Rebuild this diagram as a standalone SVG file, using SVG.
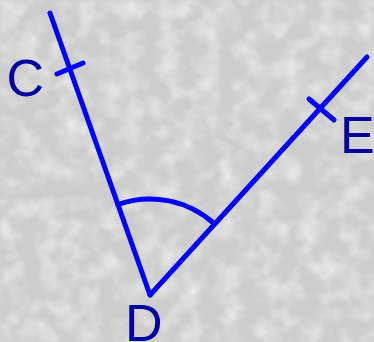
<svg xmlns="http://www.w3.org/2000/svg" width="374" height="342" viewBox="0 0 374 342">
<defs>
<filter id="marble" x="0" y="0" width="100%" height="100%">
<feTurbulence type="fractalNoise" baseFrequency="0.05" numOctaves="3" seed="4" result="n"/>
<feColorMatrix in="n" type="matrix" values="0 0 0 0 0.87  0 0 0 0 0.87  0 0 0 0 0.87  0 0 0 -1.6 0.95" result="c"/>
<feGaussianBlur in="c" stdDeviation="1.2" result="b"/>
<feComposite in="b" in2="SourceGraphic" operator="over"/>
</filter>
<style>
.ln{stroke:#0000ff;stroke-width:5;stroke-linecap:round;fill:none}
.lb{font-family:"Liberation Sans",Arial,sans-serif;font-size:52px;fill:#0000a0}
</style>
</defs>
<rect width="374" height="342" fill="#cdcdcd" filter="url(#marble)"/>
<g id="connectors">
<line class="ln" x1="50" y1="13" x2="150" y2="295"/>
<line class="ln" x1="150" y1="295" x2="367" y2="57"/>
<line class="ln" x1="57" y1="74" x2="83" y2="63"/>
<line class="ln" x1="309" y1="99" x2="334" y2="120"/>
<path class="ln" d="M117.9 204.5 A96 96 0 0 1 214.7 224.1"/>
</g>
<g id="C"><text class="lb" x="6.5" y="96">C</text></g>
<g id="E"><text class="lb" x="340" y="153">E</text></g>
<g id="D"><text class="lb" x="125" y="341">D</text></g>
</svg>
